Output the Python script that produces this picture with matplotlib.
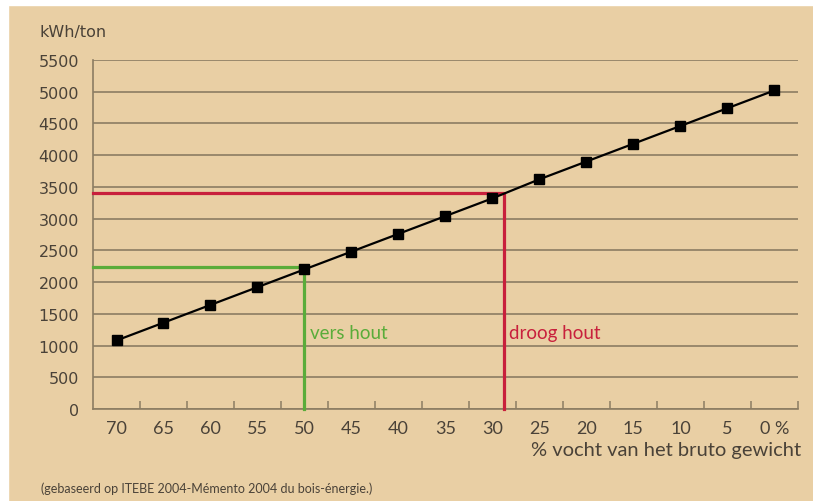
import matplotlib
matplotlib.use("Agg")
import matplotlib.pyplot as plt
import matplotlib.ticker as ticker

# data
vocht = [70, 65, 60, 55, 50, 45, 40, 35, 30, 25, 20, 15, 10, 5, 0]
kwh = [1080, 1360, 1640, 1920, 2200, 2480, 2760, 3040, 3320, 3620, 3900, 4180, 4460, 4740, 5020]
x_labels = ["70", "65", "60", "55", "50", "45", "40", "35", "30", "25", "20", "15", "10", "5", "0 %"]
y_ticks = [0, 500, 1000, 1500, 2000, 2500, 3000, 3500, 4000, 4500, 5000, 5500]

vers_x, vers_y = 50, 2230
droog_x, droog_y = 28.8, 3400

bg = "#e9cfa4"
grid_c = "#8c7d63"
txt_c = "#4a4238"
red = "#c8203c"
green = "#5aac3a"
narrow = ["Lato", "DejaVu Sans"]

fig = plt.figure(figsize=(8.13, 5.02), dpi=100, facecolor=bg)
ax = fig.add_axes([0.1144, 0.1833, 0.867, 0.6952])
ax.set_facecolor(bg)

ax.set_xlim(72.5, -2.5)
ax.set_ylim(0, 5500)

ax.set_yticks(y_ticks)
ax.yaxis.grid(True, color=grid_c, lw=1.2)
ax.set_axisbelow(True)
for s in ["top", "right"]:
    ax.spines[s].set_visible(False)
for s in ["left", "bottom"]:
    ax.spines[s].set_color(grid_c)
    ax.spines[s].set_linewidth(1.2)

ax.set_xticks(vocht)
ax.set_xticklabels(x_labels, family=narrow, fontsize=13, color=txt_c)
ax.xaxis.set_minor_locator(ticker.FixedLocator([67.5 - 5 * i for i in range(14)] + [-2.5]))
ax.tick_params(axis="x", which="major", length=0, pad=8)
ax.tick_params(axis="x", which="minor", direction="in", length=6, width=1.1, color=grid_c)
ax.tick_params(axis="y", length=0, pad=10, labelsize=11.5, labelcolor=txt_c)

# reference lines
ax.plot([72.5, vers_x, vers_x], [vers_y, vers_y, 0], color=green, lw=2.3, clip_on=False, zorder=3)
ax.plot([72.5, droog_x, droog_x], [droog_y, droog_y, 0], color=red, lw=2.3, clip_on=False, zorder=3)

ax.plot(vocht, kwh, "-s", color="black", lw=1.6, ms=7, zorder=4)

ax.text(vers_x - 0.6, 1200, "vers hout", color=green, fontsize=13.5,
        family=narrow, ha="left", va="center")
ax.text(droog_x - 0.6, 1200, "droog hout", color=red, fontsize=13.5,
        family=narrow, ha="left", va="center")

fig.text(0.048, 0.935, "kWh/ton", fontsize=11.5, color=txt_c, ha="left", va="center")
fig.text(0.985, 0.102, "% vocht van het bruto gewicht", fontsize=14.5, color=txt_c,
         family=narrow, ha="right", va="center")
fig.text(0.05, 0.027, "(gebaseerd op ITEBE 2004-Mémento 2004 du bois-énergie.)", fontsize=9,
         color=txt_c, family=narrow, ha="left", va="center")

# white strips at top and left edge
fig.patches.append(plt.Rectangle((0, 0.988), 1, 0.012, transform=fig.transFigure, color="white", zorder=-1))
fig.patches.append(plt.Rectangle((0, 0), 0.01, 1, transform=fig.transFigure, color="white", zorder=-1))

fig.savefig("out.png", dpi=100, facecolor=bg)
